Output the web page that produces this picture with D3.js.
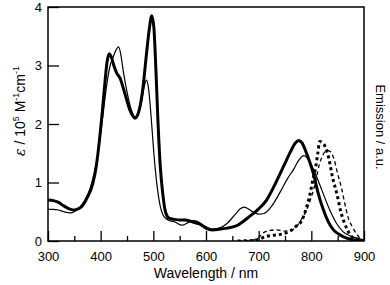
<!DOCTYPE html>
<html><head><meta charset="utf-8">
<script src="https://cdn.jsdelivr.net/npm/d3@7"></script>
<style>
body{margin:0;background:#fff;}
text{font-family:"Liberation Sans",Arial,sans-serif;fill:#000;}
</style></head>
<body><svg id="c" width="390" height="285"></svg>
<script>
// Absorption, thick solid: [wavelength nm, epsilon /1e5]
const absThick = [[300,0.70],[310,0.69],[320,0.66],[330,0.60],[340,0.55],[348,0.53],[355,0.54],[365,0.60],[375,0.75],[385,0.98],[392,1.3],[398,1.75],[403,2.2],[408,2.7],[412,3.05],[416,3.2],[420,3.15],[425,3.0],[430,2.88],[437,2.78],[445,2.55],[455,2.25],[465,2.10],[472,2.2],[480,2.6],[487,3.2],[492,3.6],[497,3.85],[501,3.65],[505,2.9],[509,2.0],[513,1.3],[518,0.8],[523,0.5],[530,0.39],[540,0.37],[550,0.36],[560,0.36],[570,0.34],[580,0.31],[590,0.28],[600,0.22],[612,0.19],[625,0.2],[640,0.22],[660,0.27],[670,0.33],[680,0.40],[700,0.55],[715,0.70],[730,0.95],[747,1.27],[760,1.52],[770,1.68],[776,1.72],[782,1.68],[790,1.52],[797,1.35],[804,1.15],[812,0.85],[823,0.53],[832,0.33],[842,0.19],[855,0.1],[867,0.05],[880,0.02],[900,0.0]];
// Absorption, thin solid
const absThin = [[300,0.54],[310,0.54],[320,0.53],[330,0.50],[342,0.48],[350,0.50],[360,0.57],[370,0.70],[380,0.9],[390,1.25],[398,1.7],[405,2.2],[412,2.7],[418,3.0],[424,3.15],[430,3.28],[434,3.32],[438,3.2],[443,2.9],[450,2.55],[458,2.25],[466,2.12],[472,2.2],[478,2.4],[483,2.65],[487,2.75],[491,2.6],[496,2.1],[501,1.5],[507,0.95],[513,0.6],[520,0.42],[530,0.35],[540,0.33],[550,0.28],[556,0.27],[565,0.31],[576,0.35],[585,0.33],[595,0.27],[605,0.22],[612,0.2],[625,0.22],[640,0.3],[655,0.45],[665,0.55],[672,0.58],[680,0.55],[690,0.49],[700,0.46],[710,0.47],[725,0.6],[741,0.84],[755,1.07],[766,1.22],[776,1.38],[786,1.46],[792,1.42],[800,1.3],[810,1.1],[820,0.87],[835,0.53],[848,0.3],[860,0.16],[873,0.09],[886,0.05],[900,0.02]];
// Emission, bold dotted (a.u., drawn on same scale)
const emThick = [[660,0.0],[690,0.01],[700,0.03],[715,0.08],[730,0.1],[745,0.12],[760,0.17],[772,0.26],[782,0.35],[790,0.55],[797,0.78],[803,1.05],[808,1.25],[812,1.48],[816,1.70],[821,1.68],[827,1.6],[833,1.42],[840,1.1],[849,0.79],[856,0.5],[862,0.33],[868,0.2],[874,0.1],[882,0.05],[892,0.02],[900,0.0]];
// Emission, thin dashed
const emThin = [[660,0.0],[690,0.02],[700,0.06],[709,0.14],[720,0.18],[734,0.19],[750,0.17],[763,0.19],[772,0.25],[782,0.38],[791,0.53],[798,0.7],[805,0.9],[810,1.1],[815,1.3],[822,1.47],[830,1.55],[836,1.53],[843,1.4],[850,1.15],[858,0.88],[864,0.62],[870,0.4],[878,0.24],[886,0.12],[892,0.05],[900,0.01]];
const xMajor = [300,400,500,600,700,800,900];
const xMinor = [350,450,550,650,750,850];
const yMajor = [0,1,2,3,4];

const L=48,R=364,T=7,B=241;
const svg=d3.select("#c");
const x=d3.scaleLinear().domain([300,900]).range([L,R]);
const y=d3.scaleLinear().domain([0,4]).range([B,T]);

svg.append("defs").append("clipPath").attr("id","clip").append("rect")
  .attr("x",L).attr("y",T).attr("width",R-L).attr("height",B-T);

const line=d3.line().x(d=>x(d[0])).y(d=>y(d[1])).curve(d3.curveMonotoneX);
const g=svg.append("g").attr("clip-path","url(#clip)");
g.append("path").datum(emThin).attr("d",line).attr("fill","none").attr("stroke","#000").attr("stroke-width",1.3).attr("stroke-dasharray","4,3");
g.append("path").datum(emThick).attr("d",line).attr("fill","none").attr("stroke","#000").attr("stroke-width",3).attr("stroke-dasharray","3,3");
g.append("path").datum(absThin).attr("d",line).attr("fill","none").attr("stroke","#000").attr("stroke-width",1.2);
g.append("path").datum(absThick).attr("d",line).attr("fill","none").attr("stroke","#000").attr("stroke-width",3);

const ax=svg.append("g").attr("transform",`translate(0,${B})`)
  .call(d3.axisBottom(x).tickValues(xMajor).tickSize(-10).tickPadding(11).tickFormat(d3.format("d")));
const axm=svg.append("g").attr("transform",`translate(0,${B})`)
  .call(d3.axisBottom(x).tickValues(xMinor).tickSize(-5).tickFormat(""));
const ay=svg.append("g").attr("transform",`translate(${L},0)`)
  .call(d3.axisLeft(y).tickValues(yMajor).tickSize(-11).tickPadding(6).tickFormat(d3.format("d")));
[ax,axm,ay].forEach(a=>{a.select(".domain").remove();a.selectAll("line").attr("stroke","#000").attr("stroke-width",1.3);a.selectAll("text").attr("font-size",13).attr("font-family","Liberation Sans, Arial, sans-serif").attr("fill","#000");});

svg.append("rect").attr("x",L).attr("y",T).attr("width",R-L).attr("height",B-T)
  .attr("fill","none").attr("stroke","#000").attr("stroke-width",1.5);

svg.append("text").attr("x",(L+R)/2).attr("y",278).attr("text-anchor","middle").attr("font-size",14).text("Wavelength / nm");

const yl=svg.append("text").attr("transform","translate(25,111) rotate(-90)").attr("text-anchor","middle").attr("font-size",14);
yl.append("tspan").attr("font-style","italic").attr("font-family","DejaVu Serif, serif").text("ε");
yl.append("tspan").text(" / 10");
yl.append("tspan").attr("font-size",9).attr("dy",-6).text("5");
yl.append("tspan").attr("dy",6).text(" M");
yl.append("tspan").attr("font-size",9).attr("dy",-6).text("-1");
yl.append("tspan").attr("dy",6).text("cm");
yl.append("tspan").attr("font-size",9).attr("dy",-6).text("-1");

svg.append("text").attr("transform","translate(376,127) rotate(90)").attr("text-anchor","middle").attr("font-size",13).text("Emission / a.u.");
</script></body></html>
